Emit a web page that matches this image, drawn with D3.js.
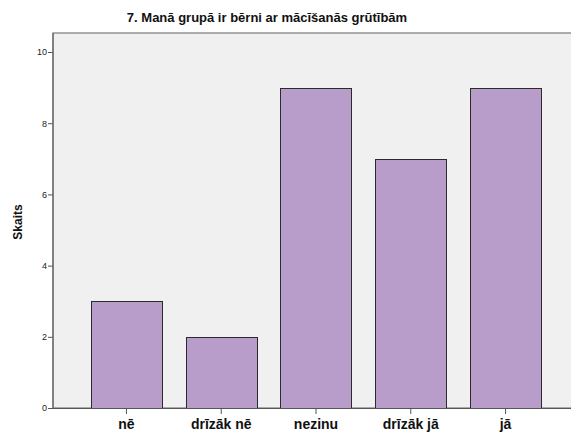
<!DOCTYPE html>
<html>
<head>
<meta charset="utf-8">
<script src="https://cdn.jsdelivr.net/npm/d3@7"></script>
<style>
  body { margin: 0; background: #fff; }
  svg { display: block; font-family: Arial, "Liberation Sans", sans-serif; }
  .tick text { fill: #222; font-size: 9px; }
  .axis path { display: none; }
  .axis line { stroke: #555; }
  .xaxis text { font-size: 14px; font-weight: bold; fill: #111; }
</style>
</head>
<body>
<div id="chart"></div>
<script>
const TITLE = "7. Manā grupā ir bērni ar mācīšanās grūtībām";
const Y_LABEL = "Skaits";
const CATEGORIES = ["nē", "drīzāk nē", "nezinu", "drīzāk jā", "jā"];
const COUNTS = [3, 2, 9, 7, 9];
const Y_TICKS = [0, 2, 4, 6, 8, 10];

const width = 571;
const height = 432;
const plot = { left: 53, right: 579, top: 33, bottom: 408 };

const svg = d3.select("#chart")
  .append("svg")
  .attr("width", width)
  .attr("height", height);

const x = d3.scaleBand()
  .domain(CATEGORIES)
  .range([plot.left, plot.right])
  .paddingInner(0.25)
  .paddingOuter(0.4);

const y = d3.scaleLinear()
  .domain([0, 10])
  .range([plot.bottom, 52]);

// plot background + frame
svg.append("rect")
  .attr("x", plot.left)
  .attr("y", plot.top)
  .attr("width", plot.right - plot.left)
  .attr("height", plot.bottom - plot.top)
  .attr("fill", "#f0f0f0")
  .attr("stroke", "#7a7a7a")
  .attr("stroke-width", 1.2);

// bars
svg.append("g")
  .selectAll("rect")
  .data(CATEGORIES)
  .join("rect")
  .attr("x", (d) => Math.round(x(d)) + 0.5)
  .attr("y", (d, i) => Math.round(y(COUNTS[i])) + 0.5)
  .attr("width", Math.round(x.bandwidth()))
  .attr("height", (d, i) => Math.round(plot.bottom - y(COUNTS[i])))
  .attr("fill", "#b89cc9")
  .attr("stroke", "#2b2b2b")
  .attr("stroke-width", 1);

// baseline
svg.append("line")
  .attr("x1", plot.left)
  .attr("x2", plot.right)
  .attr("y1", plot.bottom + 0.5)
  .attr("y2", plot.bottom + 0.5)
  .attr("stroke", "#555");

// y axis
svg.append("g")
  .attr("class", "axis")
  .attr("transform", `translate(${plot.left},0)`)
  .call(d3.axisLeft(y).tickValues(Y_TICKS).tickSize(5).tickPadding(1));

// x axis
svg.append("g")
  .attr("class", "axis xaxis")
  .attr("transform", `translate(0,${plot.bottom})`)
  .call(d3.axisBottom(x).tickSize(6).tickPadding(5));

// left frame line on top
svg.append("line")
  .attr("x1", plot.left)
  .attr("x2", plot.left)
  .attr("y1", plot.top)
  .attr("y2", plot.bottom)
  .attr("stroke", "#666")
  .attr("stroke-width", 1.2);

svg.append("text")
  .attr("x", 267)
  .attr("y", 22)
  .attr("text-anchor", "middle")
  .attr("font-size", 13)
  .attr("font-weight", "bold")
  .attr("fill", "#111")
  .text(TITLE);

svg.append("text")
  .attr("transform", "translate(22,222) rotate(-90)")
  .attr("text-anchor", "middle")
  .attr("font-size", 12)
  .attr("font-weight", "bold")
  .attr("fill", "#111")
  .text(Y_LABEL);
</script>
</body>
</html>
